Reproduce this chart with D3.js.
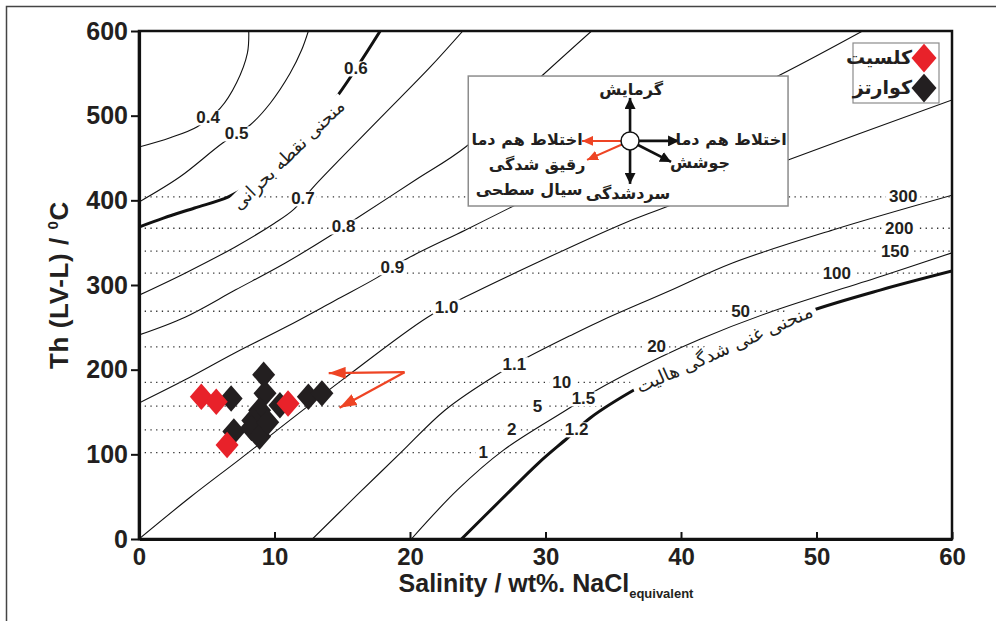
<!DOCTYPE html>
<html>
<head>
<meta charset="utf-8">
<script src="https://cdn.jsdelivr.net/npm/d3@7"></script>
<style>
  body { margin: 0; background: #fff; }
  text { font-family: "Liberation Sans", Arial, sans-serif; fill: #231f20; }
  .fa { font-family: "DejaVu Sans", sans-serif; }
</style>
</head>
<body>
<svg id="chart" width="996" height="621"></svg>
<script>
// values: salinity (wt% NaCl eq.) vs Th (degC)
var xTicks = [0, 10, 20, 30, 40, 50, 60];
var yTicks = [0, 100, 200, 300, 400, 500, 600];

// isochores (density, g/cm3)
var iso04 = [[0,463],[2.3,474],[4.3,487],[6.0,509],[7.2,539],[8.0,574],[8.1,600]];
var iso05 = [[0,398],[3.0,427.5],[6.2,468],[8.2,489],[9.7,515],[11.15,550],[12.0,577.5],[12.5,600]];
var iso07 = [[0,288],[3.4,314],[7.1,345],[10.0,373],[11.4,389],[13.0,418],[17.8,497],[21.5,557.5],[23.9,600]];
var iso08 = [[0,241],[3.4,262],[7.1,294],[10.8,326],[14.2,359],[15.9,377],[20.4,424],[24.1,463],[29.8,548],[33.4,600]];
var iso09 = [[0,160.6],[3.4,188],[7.1,220],[10.8,250],[14.5,282],[17.6,309],[19.6,329.5],[24.1,365],[27.6,393],[37.4,471],[47.3,548],[53.4,600]];
var iso10 = [[0,0],[3.8,49.6],[7.5,95],[15.0,188],[21.3,262],[24.1,286],[35.5,371],[38.7,391],[47.9,447.6],[60,518.5]];
var iso11 = [[12.8,0],[16.1,52],[19.3,101.6],[22.6,152.4],[26.4,194],[28.6,214],[31.8,240],[34.0,257],[39.0,292],[43.8,326],[51.2,365],[60,406]];
var iso15 = [[20.1,0],[23.5,58],[26.9,105],[31.8,155],[33.8,176],[38.5,215],[41.4,236],[46.4,267],[54.9,311],[60,338]];
var isoNames = ["0.4", "0.5", "0.7", "0.8", "0.9", "1.0", "1.1", "1.5"];
var isoLabelX = [5.1, 7.2, 12.1, 15.1, 18.7, 22.7, 27.7, 32.8];

// critical curve (0.6) and halite saturation curve (1.2)
var criticalCurve = [[0,368.5],[1.8,379],[4.1,391],[6.6,404],[8.9,426],[11.5,465],[14.3,516],[16.1,557.5],[17.8,600]];
var haliteCurve = [[23.8,0],[26.7,46],[29.5,90],[31.6,119],[33.3,143],[36.75,178],[43.1,230],[49.5,269],[54.7,294],[60,316.5]];
var criticalLabelX = 16.0, criticalTextX = 11.0;
var haliteLabelX = 32.3, haliteTextX = 43.2;

// isobars (bar)
var isobarBar = [1, 2, 5, 10, 20, 50, 100, 150, 200, 300];
var isobarTh = [102, 129, 157, 185, 227, 269, 314, 340, 367, 404];
var isobarLabelX = [25.4, 27.5, 29.4, 31.2, 38.2, 44.4, 51.5, 55.8, 56.1, 56.4];

// fluid inclusions
var calciteSal = [4.6, 5.7, 11.0, 6.5];
var calciteTh = [168, 162, 160, 111];
var quartzSal = [6.8, 9.2, 12.5, 13.5, 7.0, 9.3, 10.4, 8.9, 8.4, 8.3, 8.9, 9.5];
var quartzTh = [166, 194, 168, 172, 127, 172, 158, 152, 140, 131, 121, 138];

// red trend arrows
var trendFrom = [19.6, 197];
var trendTo = [[14.0, 196], [14.8, 155]];

var W = 996, H = 621;
var margin = {top: 31, right: 44, bottom: 82, left: 139},
    width = W - margin.left - margin.right,
    height = H - margin.top - margin.bottom;

var x = d3.scaleLinear().domain([0, 60]).range([0, width]);
var y = d3.scaleLinear().domain([0, 600]).range([height, 0]);

var svg = d3.select("#chart");
var defs = svg.append("defs");

defs.append("clipPath").attr("id", "plotClip")
    .append("rect").attr("width", width).attr("height", height);

function makeMask(id) {
    var m = defs.append("mask").attr("id", id)
        .attr("maskUnits", "userSpaceOnUse")
        .attr("x", -margin.left).attr("y", -margin.top).attr("width", W).attr("height", H);
    m.append("rect").attr("x", -margin.left).attr("y", -margin.top)
        .attr("width", W).attr("height", H).attr("fill", "white");
    return m;
}
var maskNum = makeMask("mNum");
var maskFa = makeMask("mFa");

function arrowMarker(id, color, len, wid) {
    defs.append("marker").attr("id", id)
        .attr("viewBox", "0 " + (-wid / 2) + " " + len + " " + wid)
        .attr("refX", len).attr("refY", 0)
        .attr("markerWidth", len).attr("markerHeight", wid)
        .attr("markerUnits", "userSpaceOnUse").attr("orient", "auto")
        .append("path").attr("d", "M0," + (-wid / 2) + "L" + len + ",0L0," + (wid / 2) + "Z")
        .attr("fill", color);
}
arrowMarker("headBlack", "#111", 11, 11);
arrowMarker("headRed", "#ee4424", 11, 10);
arrowMarker("headRedBig", "#ee4424", 17, 12);

// outer frame of the figure
svg.append("path").attr("d", "M6.5," + H + "V6.5H" + W)
    .attr("fill", "none").attr("stroke", "#444").attr("stroke-width", 1.5);

var g = svg.append("g").attr("transform", "translate(" + margin.left + "," + margin.top + ")");

function yAt(pts, xv) {
    for (var i = 0; i < pts.length - 1; i++) {
        if (xv >= pts[i][0] && xv <= pts[i + 1][0]) {
            var t = (xv - pts[i][0]) / (pts[i + 1][0] - pts[i][0]);
            return pts[i][1] + t * (pts[i + 1][1] - pts[i][1]);
        }
    }
    return pts[pts.length - 1][1];
}
function xAt(pts, yv) {
    for (var i = 0; i < pts.length - 1; i++) {
        if (yv >= pts[i][1] && yv <= pts[i + 1][1]) {
            var t = (yv - pts[i][1]) / (pts[i + 1][1] - pts[i][1]);
            return pts[i][0] + t * (pts[i + 1][0] - pts[i][0]);
        }
    }
    return 60;
}
function angleAt(pts, xv, d) {
    var a = [x(xv - d), y(yAt(pts, xv - d))], b = [x(xv + d), y(yAt(pts, xv + d))];
    return Math.atan2(b[1] - a[1], b[0] - a[0]) * 180 / Math.PI;
}

var line = d3.line()
    .x(function(d) { return x(d[0]); })
    .y(function(d) { return y(d[1]); })
    .curve(d3.curveCatmullRom.alpha(0.5));

var lines = g.append("g").attr("clip-path", "url(#plotClip)").attr("mask", "url(#mNum)");
var thinG = lines.append("g");
var faG = lines.append("g").attr("mask", "url(#mFa)");

var isochores = [iso04, iso05, iso07, iso08, iso09, iso10, iso11, iso15];
thinG.selectAll("path.iso")
    .data(isochores)
    .enter().append("path")
    .attr("class", "iso")
    .attr("d", line)
    .attr("fill", "none").attr("stroke", "#111").attr("stroke-width", 1.1);

faG.selectAll("line.isobar")
    .data(isobarTh)
    .enter().append("line")
    .attr("class", "isobar")
    .attr("x1", x(0))
    .attr("x2", function(d) { return x(Math.min(60, xAt(haliteCurve, d))); })
    .attr("y1", function(d) { return y(d); })
    .attr("y2", function(d) { return y(d); })
    .attr("stroke", "#333").attr("stroke-width", 1.3)
    .attr("stroke-dasharray", "1.3,4.4");

faG.selectAll("path.thick")
    .data([criticalCurve, haliteCurve])
    .enter().append("path")
    .attr("class", "thick")
    .attr("d", line)
    .attr("fill", "none").attr("stroke", "#111").attr("stroke-width", 3);

// labels, each cutting a gap into the lines below it
var labelG = g.append("g");
function curveLabel(str, cx, cy, angle, cls, size, weight, mask, padX, padY) {
    var t = labelG.append("text")
        .attr("class", cls)
        .attr("transform", "translate(" + cx + "," + cy + ") rotate(" + angle + ")")
        .attr("text-anchor", "middle")
        .attr("dominant-baseline", "central")
        .style("font-size", size + "px")
        .style("font-weight", weight)
        .text(str);
    var b = t.node().getBBox();
    mask.append("rect").attr("transform", t.attr("transform"))
        .attr("x", b.x - padX).attr("y", b.y - padY)
        .attr("width", b.width + 2 * padX).attr("height", b.height + 2 * padY)
        .attr("fill", "black");
    return t;
}

isochores.forEach(function(pts, i) {
    curveLabel(isoNames[i], x(isoLabelX[i]), y(yAt(pts, isoLabelX[i])), 0, "num", 17, "bold", maskNum, 2, -2);
});
curveLabel("0.6", x(criticalLabelX), y(yAt(criticalCurve, criticalLabelX)), 0, "num", 17, "bold", maskNum, 2, -2);
curveLabel("1.2", x(haliteLabelX), y(yAt(haliteCurve, haliteLabelX)), 0, "num", 17, "bold", maskNum, 2, -2);
isobarBar.forEach(function(p, i) {
    curveLabel(String(p), x(isobarLabelX[i]), y(isobarTh[i]), 0, "num", 17, "bold", maskNum, 3, -3);
});

curveLabel("منحنی نقطه بحرانی", x(criticalTextX), y(yAt(criticalCurve, criticalTextX)) + 3,
    angleAt(criticalCurve, criticalTextX, 3), "fa", 18, "normal", maskFa, 4, -1);
curveLabel("منحنی غنی شدگی هالیت", x(haliteTextX), y(yAt(haliteCurve, haliteTextX)) + 5,
    angleAt(haliteCurve, haliteTextX, 3), "fa", 18.5, "normal", maskFa, 4, -1);

// inset: process diagram
var box = {x0: 24.3, x1: 47.9, y0: 393.3, y1: 546.8};
g.append("rect")
    .attr("x", x(box.x0)).attr("y", y(box.y1))
    .attr("width", x(box.x1) - x(box.x0)).attr("height", y(box.y0) - y(box.y1))
    .attr("fill", "#fff").attr("stroke", "#8c8c8c").attr("stroke-width", 1.5);

var hub = g.append("g").attr("transform", "translate(" + x(36.24) + "," + y(470.2) + ")");
var r0 = 9;
var spokes = [
    {dx: 0, dy: -43, color: "#111", head: "headBlack", w: 2.6},
    {dx: 0, dy: 43, color: "#111", head: "headBlack", w: 2.6},
    {dx: 49, dy: 0, color: "#111", head: "headBlack", w: 2.6},
    {dx: 41, dy: 21, color: "#111", head: "headBlack", w: 2.6},
    {dx: -48, dy: 0, color: "#ee4424", head: "headRed", w: 2},
    {dx: -43, dy: 19, color: "#ee4424", head: "headRed", w: 2}
];
hub.selectAll("line")
    .data(spokes)
    .enter().append("line")
    .attr("x1", function(d) { var l = Math.hypot(d.dx, d.dy); return d.dx / l * r0; })
    .attr("y1", function(d) { var l = Math.hypot(d.dx, d.dy); return d.dy / l * r0; })
    .attr("x2", function(d) { return d.dx; })
    .attr("y2", function(d) { return d.dy; })
    .attr("stroke", function(d) { return d.color; })
    .attr("stroke-width", function(d) { return d.w; })
    .attr("marker-end", function(d) { return "url(#" + d.head + ")"; });
hub.append("circle").attr("r", r0).attr("fill", "#fff").attr("stroke", "#111").attr("stroke-width", 1.5);

var hubTexts = [
    {t: "گرمایش", dx: 1, dy: -51},
    {t: "سردشدگی", dx: -2, dy: 53},
    {t: "اختلاط هم دما", dx: 101, dy: -1},
    {t: "جوشش", dx: 70, dy: 22},
    {t: "اختلاط هم دما", dx: -103, dy: -1},
    {t: "رقیق شدگی", dx: -93, dy: 24},
    {t: "سیال سطحی", dx: -101, dy: 49}
];
hub.selectAll("text")
    .data(hubTexts)
    .enter().append("text")
    .attr("class", "fa")
    .attr("x", function(d) { return d.dx; })
    .attr("y", function(d) { return d.dy; })
    .attr("text-anchor", "middle")
    .attr("dominant-baseline", "central")
    .style("font-size", "16px").style("font-weight", "bold")
    .text(function(d) { return d.t; });

// red trend arrows
g.selectAll("line.trend")
    .data(trendTo)
    .enter().append("line")
    .attr("class", "trend")
    .attr("x1", x(trendFrom[0])).attr("y1", y(trendFrom[1]))
    .attr("x2", function(d) { return x(d[0]); })
    .attr("y2", function(d) { return y(d[1]); })
    .attr("stroke", "#ee4424").attr("stroke-width", 2.2)
    .attr("marker-end", "url(#headRedBig)");

// diamonds
var diamond = {
    draw: function(ctx, size) {
        var w = Math.sqrt(size) / 2, h = w * 1.15;
        ctx.moveTo(0, -h); ctx.lineTo(w, 0); ctx.lineTo(0, h); ctx.lineTo(-w, 0); ctx.closePath();
    }
};
var sym = d3.symbol().type(diamond).size(23 * 23);

g.selectAll("path.quartz")
    .data(quartzSal)
    .enter().append("path")
    .attr("class", "quartz")
    .attr("transform", function(d, i) { return "translate(" + x(d) + "," + y(quartzTh[i]) + ")"; })
    .attr("d", sym)
    .attr("fill", "#231f20");

g.selectAll("path.calcite")
    .data(calciteSal)
    .enter().append("path")
    .attr("class", "calcite")
    .attr("transform", function(d, i) { return "translate(" + x(d) + "," + y(calciteTh[i]) + ")"; })
    .attr("d", sym)
    .attr("fill", "#e8222a");

// legend
var legendNames = ["کلسیت", "کوارتز"];
var legendColors = ["#e8222a", "#231f20"];
var legend = svg.append("g").attr("transform", "translate(853,43)");
legend.append("rect").attr("width", 86).attr("height", 60)
    .attr("fill", "#fff").attr("stroke", "#8c8c8c").attr("stroke-width", 1.2);
legend.selectAll("path")
    .data(legendColors)
    .enter().append("path")
    .attr("transform", function(d, i) { return "translate(71," + (15 + i * 30) + ")"; })
    .attr("d", d3.symbol().type(diamond).size(25 * 25))
    .attr("fill", function(d) { return d; });
legend.selectAll("text")
    .data(legendNames)
    .enter().append("text")
    .attr("class", "fa")
    .attr("x", 59)
    .attr("y", function(d, i) { return 14 + i * 30; })
    .attr("text-anchor", "end")
    .attr("dominant-baseline", "central")
    .style("font-size", "19px").style("font-weight", "bold")
    .text(function(d) { return d; });

// axes
var xAxis = d3.axisBottom(x).tickValues(xTicks).tickSizeInner(-7).tickSizeOuter(0).tickPadding(9);
var yAxis = d3.axisLeft(y).tickValues(yTicks).tickSizeInner(8).tickSizeOuter(0).tickPadding(3);

g.append("rect").attr("width", width).attr("height", height)
    .attr("fill", "none").attr("stroke", "#111").attr("stroke-width", 2.5);

var gx = g.append("g").attr("transform", "translate(0," + height + ")").call(xAxis);
var gy = g.append("g").call(yAxis);
[gx, gy].forEach(function(a) {
    a.select(".domain").attr("stroke", "#111").attr("stroke-width", 3.2);
    a.selectAll(".tick line").attr("stroke", "#111").attr("stroke-width", 2);
    a.selectAll(".tick text").style("font-weight", "bold")
        .style("font-family", "'Liberation Sans', Arial, sans-serif").attr("fill", "#231f20");
});
gx.selectAll(".tick text").style("font-size", "24px");
gy.selectAll(".tick text").style("font-size", "25px");

// axis titles
var xt = svg.append("text")
    .attr("x", 546).attr("y", 592)
    .attr("text-anchor", "middle")
    .style("font-size", "25px").style("font-weight", "bold");
xt.append("tspan").text("Salinity / wt%. NaCl");
xt.append("tspan").attr("dy", 6).style("font-size", "13px").text("equivalent");

var yt = svg.append("text")
    .attr("transform", "translate(68,285) rotate(-90)")
    .attr("text-anchor", "middle")
    .style("font-size", "26px").style("font-weight", "bold")
    .style("letter-spacing", "0.6px");
yt.append("tspan").text("Th (LV-L) / ");
yt.append("tspan").attr("dy", -10).style("font-size", "15px").text("0");
yt.append("tspan").attr("dy", 10).text("C");
</script>
</body>
</html>
